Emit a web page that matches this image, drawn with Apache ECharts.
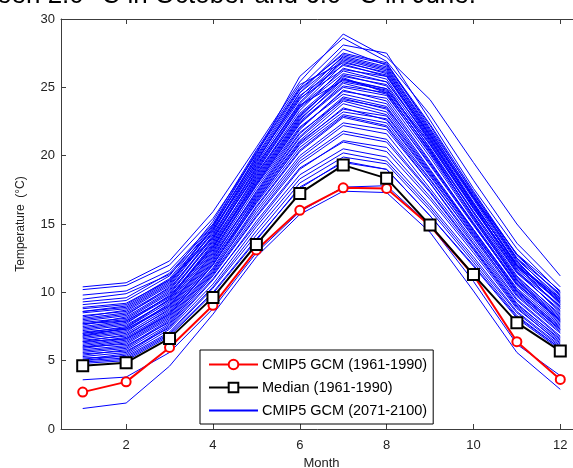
<!DOCTYPE html>
<html>
<head>
<meta charset="utf-8">
<script src="https://cdn.jsdelivr.net/npm/echarts@6/dist/echarts.min.js"></script>
<style>
  html, body { margin: 0; padding: 0; background: #fff; }
  #main { width: 573px; height: 468px; }
</style>
</head>
<body>
<div id="main"></div>
<script>
// months on the x axis
var months = [1, 2, 3, 4, 5, 6, 7, 8, 9, 10, 11, 12]
var monthTicks = [2, 4, 6, 8, 10, 12]

// CMIP5 GCM (1961-1990), red circles
var gcmPast = [2.7, 3.45, 5.97, 9.05, 13.1, 16.0, 17.65, 17.6, 14.87, 11.27, 6.39, 3.63]
// Median (1961-1990), black squares
var medianPast = [4.63, 4.85, 6.63, 9.63, 13.5, 17.24, 19.31, 18.34, 14.92, 11.3, 7.78, 5.7]

// CMIP5 GCM (2071-2100), one row per model run (blue)
var gcmFuture = [
  [1.5, 1.9, 4.6, 8.4, 12.6, 15.7, 17.4, 17.3, 14.4, 10.1, 5.6, 2.9],
  [3.6, 3.8, 5.6, 8.8, 12.9, 15.9, 17.7, 17.8, 14.9, 10.8, 6.2, 3.9],
  [4.9, 5.1, 6.9, 10.0, 13.9, 17.6, 19.6, 19.0, 15.6, 12.0, 8.2, 5.9],
  [10.4, 10.7, 12.3, 15.9, 20.6, 25.4, 28.9, 27.2, 24.1, 19.5, 15.0, 11.2],
  [10.2, 10.5, 12.0, 15.4, 20.1, 25.8, 28.6, 26.9, 23.0, 18.2, 13.6, 10.4],
  [9.8, 10.1, 11.6, 15.0, 20.3, 25.0, 28.1, 27.5, 22.6, 17.6, 13.2, 10.0],
  [9.5, 9.9, 11.3, 14.6, 19.5, 24.6, 27.8, 26.6, 22.2, 17.2, 12.8, 9.7],
  [5.0, 5.4, 7.3, 10.6, 14.8, 18.6, 20.5, 19.9, 16.4, 12.6, 8.6, 6.1],
  [5.3, 5.6, 7.6, 11.2, 15.5, 19.4, 21.6, 21.0, 17.3, 13.2, 9.0, 6.4],
  [5.6, 5.9, 7.9, 11.5, 16.2, 20.3, 22.8, 22.1, 18.0, 13.8, 9.5, 6.8],
  [5.9, 6.3, 8.2, 11.8, 16.6, 20.9, 23.5, 22.6, 18.5, 14.2, 9.8, 7.1],
  [6.2, 6.6, 8.5, 12.3, 17.1, 21.4, 24.2, 23.4, 19.0, 14.6, 10.2, 7.4],
  [6.5, 6.8, 8.8, 12.5, 17.4, 21.9, 24.8, 24.0, 19.6, 15.0, 10.5, 7.7],
  [6.8, 7.2, 9.0, 12.9, 17.9, 22.3, 25.3, 24.5, 20.1, 15.4, 10.8, 8.0],
  [7.1, 7.4, 9.3, 13.2, 18.3, 22.8, 25.9, 25.1, 20.5, 15.8, 11.2, 8.3],
  [7.4, 7.8, 9.6, 13.6, 18.6, 23.3, 26.4, 25.6, 21.0, 16.2, 11.5, 8.6],
  [7.7, 8.0, 9.9, 13.9, 19.1, 23.8, 26.9, 26.0, 21.4, 16.6, 11.9, 8.9],
  [8.0, 8.4, 10.2, 14.2, 19.4, 24.1, 27.1, 26.3, 21.7, 16.9, 12.2, 9.2],
  [8.3, 8.6, 10.5, 14.5, 19.8, 24.4, 26.6, 25.9, 21.3, 16.5, 12.0, 9.4],
  [8.6, 8.9, 10.8, 14.3, 19.0, 23.6, 26.2, 25.4, 21.1, 16.4, 12.1, 9.5],
  [8.9, 9.2, 10.9, 14.0, 18.7, 23.0, 25.6, 24.9, 20.8, 16.1, 11.8, 9.3],
  [5.1, 5.5, 7.5, 11.0, 15.0, 19.0, 21.1, 20.6, 17.0, 13.1, 8.9, 6.2],
  [5.4, 5.8, 7.7, 11.4, 15.8, 19.8, 22.2, 21.6, 17.6, 13.5, 9.2, 6.5],
  [5.7, 6.0, 8.0, 11.6, 16.0, 20.0, 22.4, 21.9, 18.0, 13.6, 9.4, 6.7],
  [6.0, 6.4, 8.3, 12.0, 16.9, 21.1, 23.8, 23.0, 18.8, 14.4, 10.0, 7.2],
  [6.3, 6.7, 8.6, 12.2, 16.8, 21.0, 23.4, 22.9, 18.7, 14.6, 10.3, 7.6],
  [6.6, 7.0, 8.9, 12.6, 17.2, 21.6, 24.3, 23.6, 19.3, 14.9, 10.6, 7.9],
  [6.9, 7.3, 9.1, 12.8, 17.6, 22.0, 24.7, 24.2, 19.9, 15.3, 10.9, 8.1],
  [7.2, 7.6, 9.4, 13.1, 17.9, 22.4, 25.0, 24.4, 20.2, 15.6, 11.1, 8.4],
  [7.5, 7.9, 9.7, 13.4, 18.2, 22.7, 25.4, 24.8, 20.6, 15.9, 11.4, 8.7],
  [7.8, 8.1, 10.0, 13.7, 18.5, 23.1, 25.8, 25.2, 20.9, 16.3, 11.7, 9.0],
  [8.1, 8.5, 10.3, 14.0, 18.8, 23.5, 26.0, 25.4, 21.2, 16.5, 12.0, 9.3],
  [5.2, 5.3, 7.1, 10.4, 14.5, 18.3, 20.2, 19.6, 16.2, 12.4, 8.5, 6.0],
  [5.5, 5.7, 7.4, 10.9, 15.2, 19.1, 21.0, 20.3, 16.8, 12.9, 8.8, 6.3],
  [5.8, 6.1, 7.8, 11.3, 15.6, 19.6, 21.8, 21.2, 17.4, 13.3, 9.1, 6.6],
  [6.1, 6.5, 8.4, 12.1, 16.5, 20.6, 23.0, 22.4, 18.3, 14.0, 9.7, 7.0],
  [6.4, 6.9, 8.7, 12.4, 17.0, 21.3, 24.0, 23.2, 18.9, 14.5, 10.1, 7.3],
  [6.7, 7.1, 9.2, 13.0, 17.8, 22.1, 24.5, 23.8, 19.5, 15.1, 10.7, 7.8],
  [7.0, 7.5, 9.5, 13.3, 18.1, 22.6, 25.6, 24.7, 20.3, 15.6, 11.0, 8.2],
  [7.3, 7.7, 9.8, 13.8, 18.9, 23.6, 26.7, 25.8, 21.2, 16.4, 11.6, 8.5],
  [7.6, 8.2, 10.1, 14.1, 19.2, 23.9, 27.0, 26.2, 21.5, 16.8, 12.0, 8.8],
  [7.9, 8.3, 10.4, 14.4, 19.6, 24.3, 27.3, 26.5, 21.9, 17.0, 12.3, 9.1],
  [8.2, 8.7, 10.6, 14.7, 20.0, 24.8, 27.5, 26.8, 22.0, 17.3, 12.5, 9.4],
  [8.5, 8.8, 10.7, 14.8, 19.9, 24.6, 27.2, 26.4, 21.8, 17.1, 12.4, 9.6],
  [8.8, 9.1, 11.0, 14.9, 20.2, 24.9, 27.4, 26.7, 22.3, 17.4, 12.7, 9.8],
  [9.1, 9.4, 11.2, 15.2, 20.4, 25.2, 26.8, 26.1, 21.6, 16.9, 12.5, 9.9],
  [6.0, 6.2, 8.1, 11.7, 16.3, 20.4, 22.9, 22.2, 18.2, 14.1, 9.9, 7.3],
  [7.0, 7.3, 9.0, 12.7, 17.3, 21.7, 24.1, 23.5, 19.4, 15.0, 10.6, 8.0],
  [4.8, 5.0, 6.8, 9.9, 13.8, 17.7, 19.5, 19.0, 15.6, 11.9, 8.1, 5.8],
  [5.0, 5.2, 7.0, 10.3, 14.2, 18.0, 19.9, 19.4, 16.0, 12.2, 8.3, 5.9],
  [8.6, 9.0, 10.9, 14.6, 19.3, 23.7, 25.5, 24.9, 20.8, 16.2, 11.9, 9.6],
  [6.8, 7.4, 9.5, 13.5, 18.4, 22.9, 25.7, 24.6, 20.4, 15.5, 10.9, 7.9],
  [7.7, 7.9, 9.7, 13.3, 18.0, 22.5, 25.1, 24.6, 20.4, 15.9, 11.5, 9.0],
  [9.3, 9.6, 11.4, 14.9, 19.7, 24.2, 26.3, 25.8, 21.5, 17.0, 12.8, 10.1],
  [6.4, 6.6, 8.4, 12.0, 16.7, 20.8, 23.2, 22.7, 18.6, 14.3, 10.1, 7.5]
]

var nameRed = 'CMIP5 GCM (1961-1990)'
var nameBlack = 'Median (1961-1990)'
var nameBlue = 'CMIP5 GCM (2071-2100)'

function pairs(vals) {
  return months.map(function (m, i) { return [m, vals[i]] })
}

var axisColor = '#3c3c3c'
var font = 'Liberation Sans, Arial, sans-serif'

var series = []
// blue lines first so they sit underneath
gcmFuture.forEach(function (row) {
  series.push({
    name: nameBlue,
    type: 'line',
    data: pairs(row),
    symbol: 'none',
    lineStyle: { color: '#0000ff', width: 1 },
    itemStyle: { color: '#0000ff' },
    z: 2
  })
})
series.push({
  name: nameRed,
  type: 'line',
  data: pairs(gcmPast),
  symbol: 'emptyCircle',
  symbolSize: 9,
  lineStyle: { color: '#ff0000', width: 2 },
  itemStyle: { color: '#ff0000', borderColor: '#ff0000', borderWidth: 2 },
  z: 3
})
series.push({
  name: nameBlack,
  type: 'line',
  data: pairs(medianPast),
  symbol: 'emptyRect',
  symbolSize: 11,
  lineStyle: { color: '#000000', width: 2 },
  itemStyle: { color: '#000000', borderColor: '#000000', borderWidth: 2 },
  z: 4
})

var chart = echarts.init(document.getElementById('main'))
chart.setOption({
  animation: false,
  backgroundColor: '#ffffff',
  textStyle: { fontFamily: font },
  // caption text, cut off by the top of the picture
  graphic: [{
    type: 'text',
    x: 476,
    y: -17,
    style: {
      text: 'between 2.0 \u00b0C in October and 6.0 \u00b0C in June.',
      font: '26px ' + font,
      fill: '#000',
      align: 'right',
      verticalAlign: 'top'
    }
  }],
  grid: { left: 61, right: -9, top: 19, bottom: 39, outerBoundsMode: 'none', containLabel: false },
  legend: {
    data: [
      nameRed,
      nameBlack,
      { name: nameBlue, itemStyle: { opacity: 0 } }
    ],
    orient: 'vertical',
    left: 200,
    top: 350,
    itemWidth: 49,
    itemHeight: 12,
    itemGap: 8,
    padding: [7, 6, 6, 8],
    borderColor: '#000',
    borderWidth: 1,
    backgroundColor: '#fff',
    selectedMode: false,
    textStyle: { fontSize: 14.5, color: '#000', fontFamily: font, padding: [0, 0, 0, -1] }
  },
  xAxis: [{
    type: 'value',
    min: 0.5,
    max: 12.5,
    name: 'Month',
    nameLocation: 'middle',
    nameGap: 28,
    nameTextStyle: { fontSize: 13, color: '#222' },
    axisLine: { lineStyle: { color: axisColor, width: 1 } },
    axisTick: { inside: true, length: 5, customValues: monthTicks, lineStyle: { color: axisColor } },
    axisLabel: { customValues: monthTicks, fontSize: 13, color: '#222', margin: 10 },
    splitLine: { show: false }
  }, {
    type: 'value',
    position: 'top',
    min: 0.5,
    max: 12.5,
    axisLine: { lineStyle: { color: axisColor, width: 1 } },
    axisTick: { inside: true, length: 5, customValues: monthTicks, lineStyle: { color: axisColor } },
    axisLabel: { show: false },
    splitLine: { show: false }
  }],
  yAxis: {
    type: 'value',
    min: 0,
    max: 30,
    interval: 5,
    name: 'Temperature  (\u00b0C)',
    nameLocation: 'middle',
    nameGap: 34,
    nameTextStyle: { fontSize: 12, color: '#222' },
    axisLine: { show: true, lineStyle: { color: axisColor, width: 1 } },
    axisTick: { show: true, inside: true, length: 5, lineStyle: { color: axisColor } },
    axisLabel: { fontSize: 13, color: '#222', margin: 6 },
    splitLine: { show: false }
  },
  series: series
})
</script>
</body>
</html>
